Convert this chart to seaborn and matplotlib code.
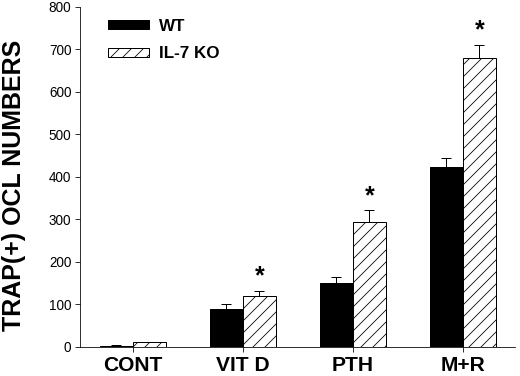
import matplotlib
matplotlib.use("Agg")
import matplotlib.pyplot as plt
import numpy as np
import pandas as pd
import seaborn as sns

# valeurs
categories = ["CONT", "VIT D", "PTH", "M+R"]
wt_values = [2, 88, 150, 423]
wt_err = [1, 12, 15, 22]
ko_values = [10, 120, 294, 680]
ko_err = [2, 12, 27, 31]
significant_ko = [False, True, True, True]
series_names = ["WT", "IL-7 KO"]

df = pd.DataFrame({
    "group": categories * 2,
    "value": wt_values + ko_values,
    "genotype": [series_names[0]] * 4 + [series_names[1]] * 4,
})

sns.set_style("ticks", {"axes.edgecolor": "black", "xtick.color": "black", "ytick.color": "black",
                        "text.color": "black", "axes.labelcolor": "black"})
plt.rcParams["font.family"] = ["Liberation Sans", "DejaVu Sans"]
plt.rcParams["hatch.linewidth"] = 0.8

fig = plt.figure(figsize=(520 / 72, 376 / 72), dpi=72)
ax = fig.add_axes([0.1538, 0.078, 0.836, 0.904])

sns.barplot(data=df, x="group", y="value", hue="genotype", palette=["black", "white"],
            edgecolor="black", linewidth=1.0, width=0.6, errorbar=None, ax=ax, legend=False)

for patch in ax.containers[1]:
    patch.set_hatch("//")

# barres d'erreur (seulement vers le haut)
for container, vals, errs in [(ax.containers[0], wt_values, wt_err), (ax.containers[1], ko_values, ko_err)]:
    xs = [p.get_x() + p.get_width() / 2 for p in container]
    ax.errorbar(xs, vals, yerr=[np.zeros(len(errs)), errs], fmt="none", ecolor="black",
                elinewidth=1.0, capsize=5, capthick=1.0, zorder=1)

xs_ko = [p.get_x() + p.get_width() / 2 for p in ax.containers[1]]
for x, v, e, s in zip(xs_ko, ko_values, ko_err, significant_ko):
    if s:
        ax.text(x, v + e + 5, "*", ha="center", va="bottom", fontsize=25, fontweight="bold")

ax.set_ylim(0, 800)
ax.set_yticks(range(0, 801, 100))
ax.set_xlim(-0.48, 3.47)
ax.set_xlabel("")
ax.set_ylabel("TRAP(+) OCL NUMBERS", fontsize=25, fontweight="bold")
ax.yaxis.set_label_coords(-0.125, 0.475)
ax.tick_params(axis="y", labelsize=13.5, length=5, width=0.8)
ax.tick_params(axis="x", labelsize=21, length=5, width=0.8, pad=4)
for lab in ax.get_xticklabels():
    lab.set_fontweight("bold")
sns.despine(ax=ax)
ax.spines["left"].set_linewidth(0.8)
ax.spines["bottom"].set_linewidth(0.8)

handles = [
    matplotlib.patches.Patch(facecolor="black", edgecolor="black", label=series_names[0]),
    matplotlib.patches.Patch(facecolor="white", edgecolor="black", hatch="//", label=series_names[1]),
]
ax.legend(handles=handles, frameon=False, loc="upper left", bbox_to_anchor=(0.03, 1.01),
          prop={"weight": "bold", "size": 17}, handlelength=2.4, handleheight=0.5,
          labelspacing=0.75, handletextpad=0.6)

fig.savefig("out.png", dpi=72)
